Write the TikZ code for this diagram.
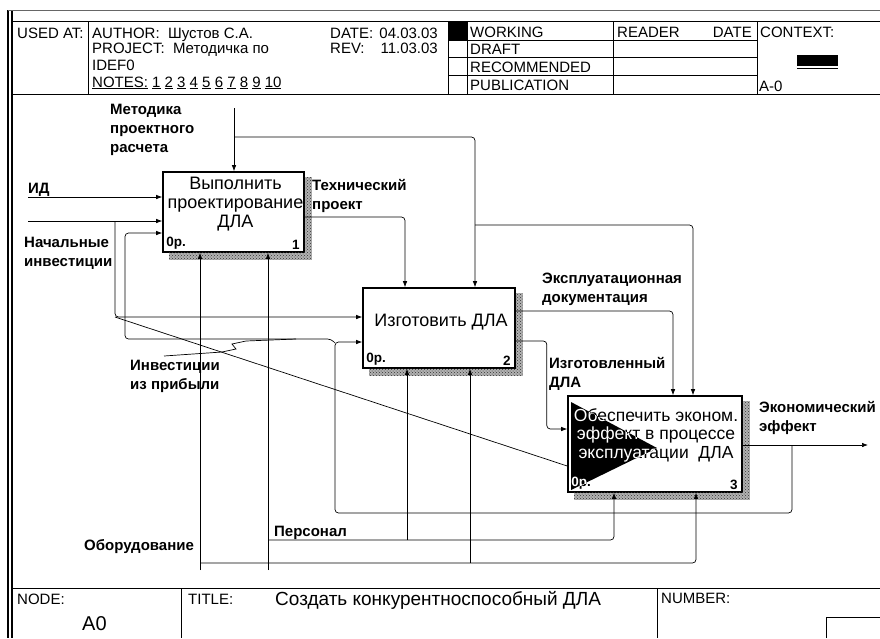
\documentclass[tikz,border=0pt]{standalone}
\usepackage{fontspec}
\setmainfont{Liberation Sans}
\usetikzlibrary{arrows.meta,positioning,patterns}
\tikzset{>={Latex[length=6pt,width=4.5pt]}}
\tikzset{
  func/.style={draw,line width=1.6pt,fill=white,inner sep=0pt},
  flow/.style={->,line width=0.7pt,rounded corners=3.5pt},
  tie/.style={line width=0.7pt},
  lbl/.style={font=\bfseries\fontsize{15}{19}\selectfont,align=left,inner sep=0pt,anchor=north west},
  boxtxt/.style={font=\fontsize{18}{19}\selectfont,align=center,inner sep=0pt},
  boxnum/.style={font=\bfseries\fontsize{13.5}{15}\selectfont,inner sep=0pt},
  hdr/.style={font=\fontsize{15}{17}\selectfont,inner sep=0pt,anchor=base west},
  rule/.style={line width=0.8pt},
  hatch/.style={fill=black!30,postaction={pattern=crosshatch dots,pattern color=black!80}},
}
\newcommand{\funcshadow}[1]{%
  \fill[hatch] ([yshift=-6pt]#1.north east) rectangle ([xshift=7pt,yshift=-7pt]#1.south east);
  \fill[hatch] ([xshift=7pt]#1.south west) rectangle ([yshift=-7pt]#1.south east);}

\begin{document}
\begin{tikzpicture}[x=1pt,y=-1pt]
\useasboundingbox (0,0) rectangle (880,638);

% Frame
\draw[line width=1.3pt] (8,10) -- (8,638);
\draw[line width=1.3pt] (12,10) -- (12,638);
\draw[line width=0.5pt,black!60] (8,10) -- (880,10);

% Header
\draw[rule] (12,21) -- (880,21);
\draw[rule] (12,94) -- (880,94);
\draw[rule] (88,21) -- (88,94);
\draw[rule] (448,21) -- (448,94);
\draw[rule] (467,21) -- (467,94);
\draw[rule] (613,21) -- (613,94);
\draw[rule] (757,21) -- (757,94);
\foreach \y in {40,57,75} \draw[rule] (448,\y) -- (757,\y);
\fill (448,21) rectangle (467,40);
\fill (797,55) rectangle (838,66);
\draw[rule] (797,68) -- (838,68);

\node[hdr] (usedat) at (17,38) {USED AT:};
\node[hdr] (author) at (92,38) {AUTHOR:\ \ Шустов С.А.};
\node[hdr] (project) at (92,53) {PROJECT:\ \ Методичка по};
\node[hdr] (idef) at (92,70) {IDEF0};
\node[hdr] (notes) at (92,87) {\underline{NOTES:}\ \underline{1}\ \underline{2}\ \underline{3}\ \underline{4}\ \underline{5}\ \underline{6}\ \underline{7}\ \underline{8}\ \underline{9}\ \underline{10}};
\node[hdr] (date) at (330,38) {DATE:};
\node[hdr,anchor=base east] (datev) at (438,38) {04.03.03};
\node[hdr] (rev) at (330,53) {REV:};
\node[hdr,anchor=base east] (revv) at (438,53) {11.03.03};
\node[hdr] (working) at (470,37) {WORKING};
\node[hdr] (draft) at (470,54) {DRAFT};
\node[hdr] (recomm) at (470,72) {RECOMMENDED};
\node[hdr] (publ) at (470,90) {PUBLICATION};
\node[hdr] (reader) at (617,37) {READER};
\node[hdr,anchor=base east] (rdate) at (752,37) {DATE};
\node[hdr] (context) at (760,37) {CONTEXT:};
\node[hdr] (ctxnode) at (759,91) {A-0};

% Functions
\node[func,minimum width=141pt,minimum height=80pt] (b1) at (233.5,212) {};
\node[func,minimum width=152pt,minimum height=80pt] (b2) at (439,328) {};
\node[func,minimum width=174pt,minimum height=96pt] (b3) at (655,444) {};
\funcshadow{b1}\funcshadow{b2}\funcshadow{b3}

\node[boxtxt,anchor=north] (b1t) at ([xshift=2pt,yshift=-6pt]b1.north) {Выполнить\\проектирование\\ДЛА};
\node[boxnum,anchor=south west] (b1o) at ([xshift=4pt,yshift=3pt]b1.south west) {0р.};
\node[boxnum,anchor=south east] (b1n) at ([xshift=-5pt,yshift=3pt]b1.south east) {1};
\node[boxtxt] (b2t) at ([xshift=2pt,yshift=6pt]b2.center) {Изготовить ДЛА};
\node[boxnum,anchor=south west] (b2o) at ([xshift=4pt,yshift=3pt]b2.south west) {0р.};
\node[boxnum,anchor=south east] (b2n) at ([xshift=-5pt,yshift=3pt]b2.south east) {2};

% Box 3 with the oversized arrow tip
\fill (571,402) -- (571,490) -- (657,448) -- cycle;
\node[boxtxt,font=\fontsize{17.5}{18.5}\selectfont] (b3t) at ([xshift=1pt,yshift=9pt]b3.center) {Обеспечить эконом.\\эффект в процессе\\эксплуатации\ \ ДЛА};
\node[boxnum,anchor=south west] (b3o) at ([xshift=4pt,yshift=3pt]b3.south west) {0р.};
\node[boxnum,anchor=south east] (b3n) at ([xshift=-5pt,yshift=3pt]b3.south east) {3};
\begin{scope}
\clip (571,402) -- (571,490) -- (657,448) -- cycle;
\node[boxtxt,font=\fontsize{17.5}{18.5}\selectfont,text=white] (b3tw) at ([xshift=1pt,yshift=9pt]b3.center) {Обеспечить эконом.\\эффект в процессе\\эксплуатации\ \ ДЛА};
\node[boxnum,text=white,anchor=south west] (b3ow) at ([xshift=4pt,yshift=3pt]b3.south west) {0р.};
\end{scope}

% Controls
\coordinate (mSrc) at (234,108);
\coordinate (mJ) at (234,137);
\coordinate (mJ2) at (475,225);
\draw[flow] (mSrc) -- (mSrc |- b1.north);
\draw[flow] (mJ) -| ([xshift=36pt]b2.north);
\draw[flow] (mJ2) -| ([xshift=38pt]b3.north);
\draw[flow] ([yshift=-5pt]b1.east) -| ([xshift=-34pt]b2.north);
\draw[flow] ([yshift=17pt]b2.east) -| ([xshift=18pt]b3.north);
\draw[flow] ([yshift=-13pt]b2.east) -- ++(31,0) |- ([yshift=15pt]b3.west);

% Output and feedback
\coordinate (eOut) at (868,445);
\coordinate (fbJ) at (792,445);
\coordinate (fbL) at (335,513);
\coordinate (fbJ2) at (335,343);
\draw[flow] ([yshift=-1pt]b3.east) -- (eOut);
\draw[flow] (fbJ) |- (fbL) |- ([yshift=-14pt]b2.west);
\draw[flow] (fbJ2) -- (331,339) -- (125,339) |- ([yshift=-21pt]b1.west);
\draw[tie] (164,356) -- (222,352) -- (236,349) -- (232,344) -- (246,341) -- (296,339);

% Inputs
\coordinate (idS) at (28,197);
\coordinate (niS) at (28,221);
\coordinate (niJ) at (115,221);
\coordinate (niC) at (115,317);
\draw[flow] (idS) -- (idS -| b1.west);
\draw[flow] (niS) -- (niS -| b1.west);
\draw[flow] (niJ) |- ([yshift=11pt]b2.west);
\draw[tie] (niC) -- ([yshift=-22pt]b3.west);

% Mechanisms
\coordinate (obS) at (200,570);
\coordinate (obJ) at (200,563);
\coordinate (obJ2) at (470,563);
\coordinate (peS) at (268,570);
\coordinate (peJ) at (268,540);
\coordinate (peJ2) at (407,540);
\draw[flow] (obS) -- (obS |- b1.south);
\draw[flow] (obJ) -| ([xshift=41pt]b3.south);
\draw[flow] (obJ2) -- (obJ2 |- b2.south);
\draw[flow] (peS) -- (peS |- b1.south);
\draw[flow] (peJ) -| ([xshift=-41pt]b3.south);
\draw[flow] (peJ2) -- (peJ2 |- b2.south);

% Labels
\node[lbl] (lmet) at (110,104) {Методика\\проектного\\расчета};
\node[lbl,anchor=base west] (lid) at (28,193) {ИД};
\node[lbl] (lni) at (24,237) {Начальные\\инвестиции};
\node[lbl] (ltp) at (312,179) {Технический\\проект};
\node[lbl] (led) at (542,273) {Эксплуатационная\\документация};
\node[lbl] (liz) at (549,357) {Изготовленный\\ДЛА};
\node[lbl] (lip) at (130,360) {Инвестиции\\из прибыли};
\node[lbl] (lee) at (759,401) {Экономический\\эффект};
\node[lbl] (lpe) at (274,526) {Персонал};
\node[lbl] (lob) at (84,539) {Оборудование};

% Footer
\draw[rule] (12,588) -- (880,588);
\draw[rule] (181,588) -- (181,638);
\draw[rule] (657,588) -- (657,638);
\draw[rule] (826,638) -- (826,617) -- (880,617);
\node[hdr] (fnode) at (17,604) {NODE:};
\node[hdr,font=\fontsize{20}{22}\selectfont] (fa0) at (82,630) {A0};
\node[hdr] (ftitle) at (188,604) {TITLE:};
\node[hdr,font=\fontsize{19}{22}\selectfont] (ftext) at (275,605) {Создать конкурентноспособный ДЛА};
\node[hdr] (fnum) at (661,603) {NUMBER:};
\end{tikzpicture}
\end{document}
